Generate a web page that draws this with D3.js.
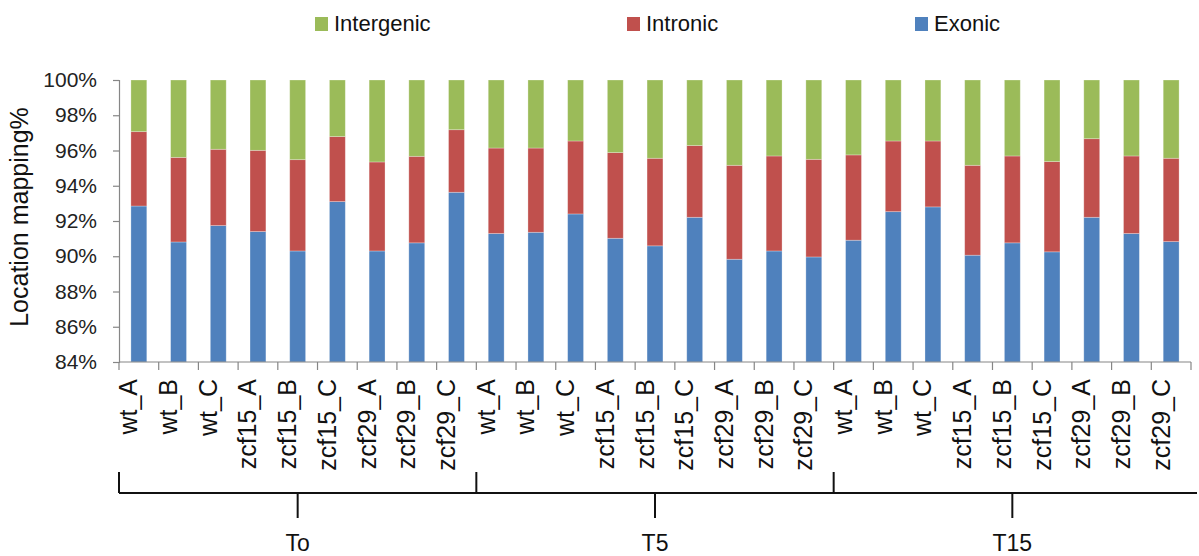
<!DOCTYPE html>
<html>
<head>
<meta charset="utf-8">
<script src="https://cdn.jsdelivr.net/npm/d3@7/dist/d3.min.js"></script>
<style>
  html, body { margin: 0; padding: 0; background: #fff; }
  svg { display: block; font-family: "Liberation Sans", Arial, sans-serif; }
</style>
</head>
<body>
<svg id="chart" width="1199" height="556"></svg>
<script>
// Time points and samples (two-level category axis)
const groups = ["To", "T5", "T15"];
const samples = ["wt_A", "wt_B", "wt_C", "zcf15_A", "zcf15_B", "zcf15_C", "zcf29_A", "zcf29_B", "zcf29_C"];

// Read mapping location percentages, per sample, To then T5 then T15
const exonic = [
  92.85, 90.81, 91.74, 91.40, 90.30, 93.10, 90.30, 90.76, 93.63,
  91.29, 91.36, 92.40, 91.02, 90.59, 92.21, 89.83, 90.30, 89.96,
  90.91, 92.53, 92.80, 90.06, 90.76, 90.25, 92.21, 91.29, 90.83
];
const intronic = [
  4.22, 4.80, 4.33, 4.61, 5.18, 3.69, 5.05, 4.91, 3.55,
  4.85, 4.78, 4.14, 4.86, 4.97, 4.07, 5.33, 5.39, 5.54,
  4.84, 4.01, 3.74, 5.10, 4.93, 5.12, 4.46, 4.40, 4.73
];
const intergenic = [
  2.93, 4.39, 3.93, 3.99, 4.52, 3.21, 4.65, 4.33, 2.82,
  3.86, 3.86, 3.46, 4.12, 4.44, 3.72, 4.84, 4.31, 4.50,
  4.25, 3.46, 3.46, 4.84, 4.31, 4.63, 3.33, 4.31, 4.44
];
const yTicks = [84, 86, 88, 90, 92, 94, 96, 98, 100];

const seriesKeys = ["Exonic", "Intronic", "Intergenic"];
const colors = { Exonic: "#4F81BD", Intronic: "#C0504D", Intergenic: "#9BBB59" };
const legendOrder = ["Intergenic", "Intronic", "Exonic"];

// one row per bar
const rows = [];
groups.forEach((g, gi) => samples.forEach((s, si) => {
  const i = gi * samples.length + si;
  rows.push({ id: i, group: g, sample: s, Exonic: exonic[i], Intronic: intronic[i], Intergenic: intergenic[i] });
}));

const svg = d3.select("#chart");
const plotLeft = 119, plotRight = 1191, plotTop = 80, plotBottom = 362;

const x = d3.scaleBand().domain(rows.map(d => d.id)).range([plotLeft, plotRight])
  .paddingInner(0.6).paddingOuter(0.3);
const step = x.step();
const y = d3.scaleLinear().domain([84, 100]).range([plotBottom, plotTop]).clamp(true);

// stacked bars
const stacked = d3.stack().keys(seriesKeys)(rows);
svg.append("g").selectAll("g").data(stacked).join("g")
  .attr("fill", d => colors[d.key])
  .selectAll("rect").data(d => d).join("rect")
  .attr("x", d => x(d.data.id))
  .attr("width", x.bandwidth())
  .attr("y", d => y(d[1]))
  .attr("height", d => y(d[0]) - y(d[1]))
  .attr("stroke", "rgba(255,255,255,0.35)")
  .attr("stroke-width", 0.8);

// y axis
const yAxis = svg.append("g").attr("transform", `translate(${plotLeft},0)`)
  .call(d3.axisLeft(y).tickValues(yTicks).tickFormat(d => d + "%").tickSize(6).tickPadding(16));
yAxis.select(".domain").attr("stroke", "#868686").attr("stroke-width", 1.2);
yAxis.selectAll(".tick line").attr("stroke", "#868686").attr("stroke-width", 1.2);
yAxis.selectAll(".tick text").attr("font-size", 21).attr("fill", "#222")
  .attr("font-family", "'Liberation Sans', Arial, sans-serif");

// y axis title
svg.append("text")
  .attr("transform", `translate(28,217) rotate(-90)`)
  .attr("text-anchor", "middle")
  .attr("font-size", 25).attr("fill", "#111")
  .text("Location mapping%");

// x axis line with ticks at category boundaries
const xAxisG = svg.append("g");
xAxisG.append("line").attr("x1", plotLeft).attr("x2", plotRight).attr("y1", plotBottom).attr("y2", plotBottom)
  .attr("stroke", "#868686").attr("stroke-width", 1.2);
xAxisG.selectAll("line.tk").data(d3.range(rows.length + 1)).join("line")
  .attr("class", "tk")
  .attr("x1", i => plotLeft + i * step).attr("x2", i => plotLeft + i * step)
  .attr("y1", plotBottom).attr("y2", plotBottom + 8)
  .attr("stroke", "#868686").attr("stroke-width", 1.2);

// sample labels, rotated
xAxisG.selectAll("text").data(rows).join("text")
  .attr("transform", d => `translate(${x(d.id) + x.bandwidth() / 2 - 1.5},379) rotate(-90)`)
  .attr("text-anchor", "end")
  .attr("font-size", 25).attr("fill", "#111")
  .text(d => d.sample);

// group brackets
const br = svg.append("g").attr("stroke", "#111").attr("stroke-width", 2);
const n = samples.length;
const bracketY = 493;
br.append("line").attr("x1", plotLeft).attr("x2", plotRight + 6).attr("y1", bracketY).attr("y2", bracketY);
br.selectAll("line.div").data(d3.range(groups.length)).join("line")
  .attr("class", "div")
  .attr("x1", gi => plotLeft + gi * n * step).attr("x2", gi => plotLeft + gi * n * step)
  .attr("y1", 472).attr("y2", bracketY);
br.selectAll("line.mid").data(groups).join("line")
  .attr("class", "mid")
  .attr("x1", (g, gi) => plotLeft + (gi + 0.5) * n * step).attr("x2", (g, gi) => plotLeft + (gi + 0.5) * n * step)
  .attr("y1", bracketY).attr("y2", 518);
svg.append("g").selectAll("text").data(groups).join("text")
  .attr("x", (g, gi) => plotLeft + (gi + 0.5) * n * step)
  .attr("y", 551)
  .attr("text-anchor", "middle")
  .attr("font-size", 23).attr("fill", "#111")
  .text(g => g);

// legend
const legendX = { Intergenic: 315, Intronic: 627, Exonic: 915 };
const lg = svg.append("g").selectAll("g").data(legendOrder).join("g")
  .attr("transform", k => `translate(${legendX[k]},0)`);
lg.append("rect").attr("x", 0).attr("y", 17).attr("width", 13).attr("height", 14)
  .attr("fill", k => colors[k]);
lg.append("text").attr("x", 19).attr("y", 31)
  .attr("font-size", 22).attr("fill", "#111")
  .text(k => k);
</script>
</body>
</html>
